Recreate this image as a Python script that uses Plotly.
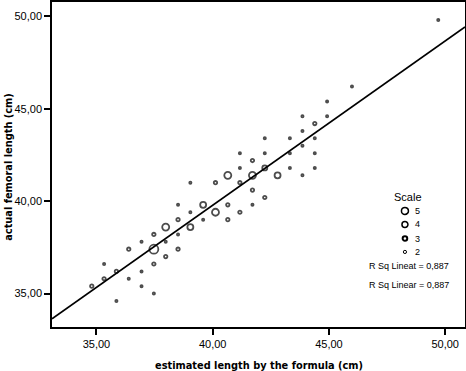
import plotly.graph_objects as go

# ---- data ----
est_length = [49.70, 45.99, 44.92, 43.86, 44.92, 44.39, 43.86, 42.24, 43.32, 44.39,
              43.86, 41.17, 42.24, 43.32, 44.39, 41.71, 41.17, 42.24, 43.32, 44.39,
              40.65, 41.71, 42.79, 43.86, 39.04, 40.12, 41.17, 41.71, 42.24, 38.51,
              39.59, 40.65, 41.71, 39.04, 40.12, 41.17, 38.51, 39.59, 40.65, 37.98,
              39.04, 37.47, 38.51, 36.94, 37.98, 36.39, 37.47, 38.51, 37.98, 35.33,
              37.47, 35.86, 36.94, 35.33, 36.39, 34.80, 36.94, 37.47, 35.86]
actual_length = [49.8, 46.2, 45.4, 44.6, 44.6, 44.2, 43.8, 43.4, 43.4, 43.4,
                 43.0, 42.6, 42.6, 42.6, 42.6, 42.2, 41.8, 41.8, 41.8, 41.8,
                 41.4, 41.4, 41.4, 41.4, 41.0, 41.0, 41.0, 40.6, 40.2, 39.8,
                 39.8, 39.8, 39.8, 39.4, 39.4, 39.4, 39.0, 39.0, 39.0, 38.6,
                 38.6, 38.2, 38.2, 37.8, 37.8, 37.4, 37.4, 37.4, 37.0, 36.6,
                 36.6, 36.2, 36.2, 35.8, 35.8, 35.4, 35.4, 35.0, 34.6]
case_count = [1, 1, 1, 1, 1, 2, 1, 1, 1, 1,
              1, 1, 1, 1, 1, 2, 1, 3, 1, 1,
              5, 5, 4, 1, 1, 2, 2, 2, 2, 1,
              4, 2, 1, 1, 5, 2, 2, 1, 2, 5,
              4, 2, 1, 1, 1, 2, 6, 2, 2, 1,
              2, 2, 1, 2, 1, 2, 1, 1, 1]

fit_slope = 0.889
fit_intercept = 4.22
r_sq_texts = ["R Sq Lineat = 0,887", "R Sq Linear = 0,887"]
legend_title = "Scale"
legend_values = [5, 4, 3, 2]
x_title = "estimated length by the formula (cm)"
y_title = "actual femoral length (cm)"
x_ticks = [35, 40, 45, 50]
y_ticks = [35, 40, 45, 50]
x_range = [33.09, 50.85]
y_range = [33.19, 50.78]

# ---- styling ----
size_for_count = {1: 2.2, 2: 3.4, 3: 5.0, 4: 6.0, 5: 7.0, 6: 9.0}
marker_sizes = [size_for_count[c] for c in case_count]

fig = go.Figure()
fig.add_trace(go.Scatter(
    x=est_length, y=actual_length, mode="markers",
    marker=dict(symbol="circle-open", size=marker_sizes, color="black",
                line=dict(color="black", width=1.8)),
    showlegend=False, hoverinfo="x+y"))

fig.add_trace(go.Scatter(
    x=x_range, y=[fit_intercept + fit_slope * v for v in x_range],
    mode="lines", line=dict(color="black", width=1.7), showlegend=False))

axis_font = dict(family="Liberation Sans, Arial", size=11, color="black")
title_font = dict(family="DejaVu Sans", size=9.8, color="black")

common = dict(tickformat=".2f", ticks="outside", ticklen=6, tickwidth=1.5,
              tickcolor="black", showline=True, linewidth=1.6, linecolor="black",
              mirror=True, showgrid=False, zeroline=False, tickfont=axis_font,
              automargin=False)
fig.update_xaxes(range=x_range, tickvals=x_ticks, **common)
fig.update_yaxes(range=y_range, tickvals=y_ticks, **common)

# ---- custom size legend and titles (layout decorations) ----
leg_x = 0.8546
leg_ys = [0.3573, 0.3154, 0.2723, 0.231]
leg_r = [3.5, 3.0, 2.3, 1.6]
leg_w = [1.5, 1.5, 2.0, 1.0]
shapes = []
annotations = []
for val, yy, r, w in zip(legend_values, leg_ys, leg_r, leg_w):
    shapes.append(dict(type="circle", xref="paper", yref="paper",
                       xsizemode="pixel", ysizemode="pixel",
                       xanchor=leg_x, yanchor=yy,
                       x0=-r, x1=r, y0=-r, y1=r,
                       line=dict(color="black", width=w)))
    annotations.append(dict(xref="paper", yref="paper", x=0.874, y=yy,
                            text=str(val), showarrow=False, xanchor="left",
                            yanchor="middle",
                            font=dict(family="Liberation Sans, Arial", size=9,
                                      color="black")))
annotations.append(dict(xref="paper", yref="paper", x=0.862, y=0.3995,
                        text=legend_title, showarrow=False, xanchor="center",
                        yanchor="middle",
                        font=dict(family="Liberation Sans, Arial", size=11,
                                  color="black")))
for txt, yy in zip(r_sq_texts, [0.1879, 0.1284]):
    annotations.append(dict(xref="paper", yref="paper", x=0.864, y=yy,
                            text=txt, showarrow=False, xanchor="center",
                            yanchor="middle",
                            font=dict(family="Liberation Sans, Arial", size=9,
                                      color="black")))
annotations.append(dict(xref="paper", yref="paper", x=0.501, y=-0.118,
                        text="<b>" + x_title + "</b>", showarrow=False,
                        xanchor="center", yanchor="middle", font=title_font))
annotations.append(dict(xref="paper", yref="paper", x=-0.1073, y=0.492,
                        text="<b>" + y_title + "</b>", showarrow=False,
                        textangle=-90, xanchor="center", yanchor="middle",
                        font=title_font))

fig.update_layout(width=466, height=371,
                  margin=dict(l=52, r=1, t=2, b=44, autoexpand=False),
                  paper_bgcolor="white", plot_bgcolor="white",
                  separators=", ", shapes=shapes, annotations=annotations,
                  showlegend=False)

fig.write_html("out.html", config={"displayModeBar": False},
               post_script="document.body.style.margin='0';"
                           "document.body.style.overflow='hidden';")
